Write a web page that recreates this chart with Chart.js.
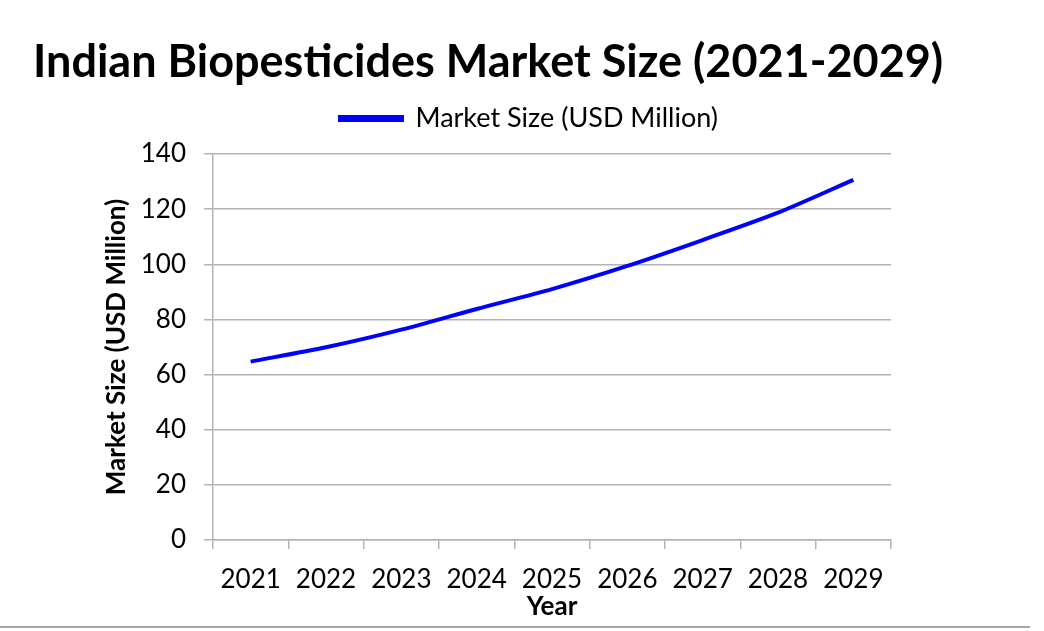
<!DOCTYPE html>
<html>
<head>
<meta charset="utf-8">
<script src="https://cdn.jsdelivr.net/npm/chart.js@4.4.1/dist/chart.umd.min.js"></script>
<style>
  html, body { margin: 0; padding: 0; background: #ffffff; }
  #wrap { position: relative; width: 1044px; height: 631px; }
  #bottomRule { position: absolute; left: 0; top: 626px; width: 1030px; height: 0; border-top: 2px solid #a6a6a6; }
</style>
</head>
<body>
<div id="wrap">
  <canvas id="c" width="1044" height="631"></canvas>
  <div id="bottomRule"></div>
</div>
<script>
const titleText = 'Indian Biopesticides Market Size (2021-2029)';
const seriesName = 'Market Size (USD Million)';
const years = ['2021', '2022', '2023', '2024', '2025', '2026', '2027', '2028', '2029'];
const marketSize = [64.7, 69.9, 76.3, 83.8, 91.0, 99.4, 108.8, 118.7, 130.6];
const yTicks = [0, 20, 40, 60, 80, 100, 120, 140];
const xAxisTitle = 'Year';
const yAxisTitle = 'Market Size (USD Million)';

const FONT = 'Lato, "Open Sans", sans-serif';
const GRID = '#b3b3b3';

new Chart(document.getElementById('c'), {
  type: 'line',
  data: {
    labels: years,
    datasets: [{
      label: seriesName,
      data: marketSize,
      borderColor: '#0000ff',
      backgroundColor: '#0000ff',
      borderWidth: 4,
      pointRadius: 0,
      tension: 0.25,
      fill: false
    }]
  },
  options: {
    responsive: false,
    animation: false,
    devicePixelRatio: 1,
    layout: { padding: { left: 33, right: 19, top: 0, bottom: 11 } },
    plugins: {
      title: {
        display: true,
        text: titleText,
        align: 'start',
        color: '#000000',
        font: { family: FONT, size: 45, weight: 'bold', lineHeight: 1.2 },
        padding: { top: 35, bottom: 4 }
      },
      legend: {
        display: true,
        position: 'top',
        labels: {
          color: '#000000',
          font: { family: FONT, size: 27 },
          boxWidth: 62,
          boxHeight: 3,
          padding: 12
        }
      },
      tooltip: { enabled: false }
    },
    scales: {
      x: {
        type: 'category',
        offset: true,
        grid: { display: true, offset: true, drawOnChartArea: false, drawTicks: true, tickLength: 9, color: GRID, lineWidth: 1.5 },
        border: { display: true, color: GRID, width: 1.5 },
        ticks: { color: '#000000', font: { family: FONT, size: 26, lineHeight: 1.2 }, padding: 15, maxRotation: 0, autoSkip: false },
        title: { display: true, text: xAxisTitle, color: '#000000', font: { family: FONT, size: 26, weight: 'bold', lineHeight: 1.0 }, padding: { top: 0, bottom: 0 } },
        afterFit: (s) => { s.height = 80; }
      },
      xTop: {
        type: 'category',
        axis: 'x',
        position: 'top',
        display: true,
        grid: { display: false },
        border: { display: false },
        ticks: { display: false },
        afterFit: (s) => { s.height = 12; }
      },
      y: {
        type: 'linear',
        position: 'left',
        min: 0,
        max: 140,
        afterBuildTicks: (s) => { s.ticks = yTicks.map(v => ({ value: v })); },
        grid: { display: true, drawTicks: true, tickLength: 9, color: GRID, lineWidth: 1.5 },
        border: { display: true, color: GRID, width: 1.5 },
        ticks: { color: '#000000', font: { family: FONT, size: 26 }, padding: 18 },
        title: { display: true, text: yAxisTitle, color: '#000000', font: { family: FONT, size: 26, weight: 'bold', lineHeight: 1.2 }, padding: { top: 68, bottom: 0 } },
        afterFit: (s) => { s.width = 180; }
      },
      yRight: {
        type: 'linear',
        position: 'right',
        display: true,
        grid: { display: false },
        border: { display: false },
        ticks: { display: false },
        afterFit: (s) => { s.width = 134; }
      }
    }
  }
});
</script>
</body>
</html>
